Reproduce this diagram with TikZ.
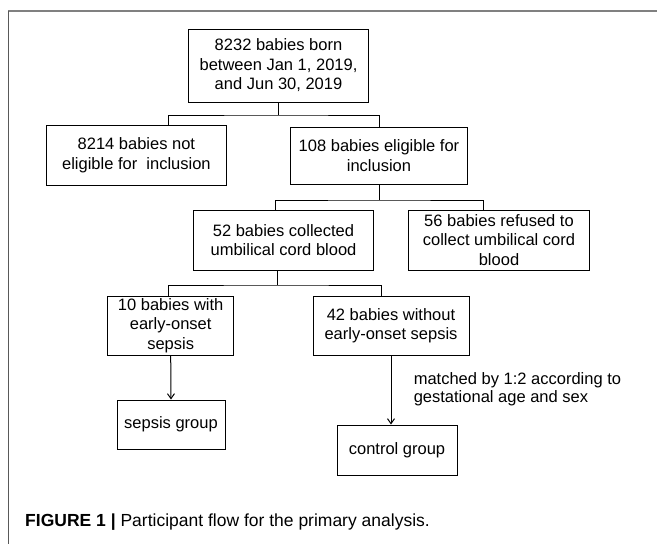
\documentclass[tikz,border=0pt]{standalone}
\usepackage{fontspec}
\setmainfont{Liberation Sans}
\usetikzlibrary{arrows.meta}
\begin{document}
\begin{tikzpicture}[x=1pt,y=-1pt,
 box/.style={draw,line width=1pt,align=center,inner sep=1pt,font=\fontsize{16.5}{19.5}\selectfont},
 link/.style={line width=1pt},
 arr/.style={line width=1pt,-{Straight Barb[length=5pt,width=7pt]}}]
\useasboundingbox (0,0) rectangle (657,544);
\draw[gray,line width=1.5pt] (8,11) -- (657,11);
\draw[gray!70!black,line width=0.8pt] (8,11) -- (8,544);
\node[box,minimum width=180pt,minimum height=73pt] (born) at (278.5,65.5) {8232 babies born\\between Jan 1, 2019,\\and Jun 30, 2019};
\node[box,minimum width=180pt,minimum height=60pt] (noelig) at (136.4,155) {8214 babies not\\eligible for\ \ inclusion};
\node[box,minimum width=177pt,minimum height=57pt] (elig) at (379,155.5) {108 babies eligible for\\inclusion};
\node[box,minimum width=180pt,minimum height=60pt] (cord) at (283.5,240) {52 babies collected\\umbilical cord blood};
\node[box,minimum width=181pt,minimum height=60pt] (refused) at (499,240) {56 babies refused to\\collect umbilical cord\\blood};
\node[box,minimum width=126pt,minimum height=59pt] (eos) at (170.7,325.5) {10 babies with\\early-onset\\sepsis};
\node[box,minimum width=156pt,minimum height=59pt] (noeos) at (391,325.5) {42 babies without\\early-onset sepsis};
\node[box,minimum width=108pt,minimum height=49pt] (sgroup) at (171,424.5) {sepsis group};
\node[box,minimum width=120pt,minimum height=50pt] (cgroup) at (397,450) {control group};
\node[anchor=west,align=left,inner sep=0pt,font=\fontsize{16.5}{18}\selectfont] (match) at (413.6,389) {matched by 1:2 according to\\gestational age and sex};
\node[anchor=west,inner sep=0pt,font=\fontsize{17.5}{21}\selectfont] (cap) at (25,522) {\textbf{FIGURE 1 |} Participant flow for the primary analysis.};
\coordinate (j1) at (born.south |- 0,115);
\draw[link] (born.south) -- (j1);
\draw[link] ([xshift=32pt]noelig.north) |- (j1) -| (elig.north);
\coordinate (j2) at (elig.south |- 0,200);
\draw[link] (elig.south) -- (j2);
\draw[link] ([xshift=-8pt]cord.north) |- (j2) -| ([xshift=-16pt]refused.north);
\coordinate (j3) at ([xshift=-6pt]cord.south |- 0,285);
\draw[link] ([xshift=-6pt]cord.south) -- (j3);
\draw[link] ([xshift=-2pt]eos.north) |- (j3) -| ([xshift=-10pt]noeos.north);
\draw[arr] (eos.south) -- (sgroup.north);
\draw[arr] (noeos.south) -- (noeos.south |- cgroup.north);
\end{tikzpicture}
\end{document}
